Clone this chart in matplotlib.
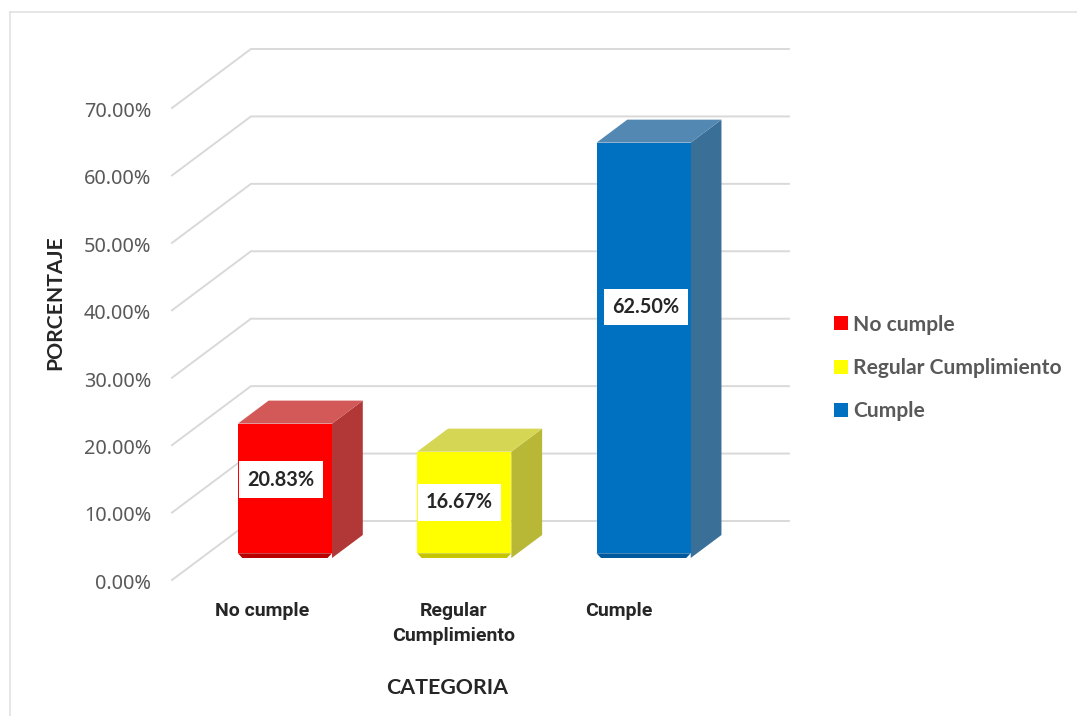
# Cumplimiento por categoria - 3D style bar chart
import matplotlib
matplotlib.use("Agg")
import matplotlib.pyplot as plt
from matplotlib.lines import Line2D
from matplotlib.patches import Patch, Polygon
from matplotlib.transforms import ScaledTranslation

# Data
categories = ["No cumple", "Regular\nCumplimiento", "Cumple"]
legend_labels = ["No cumple", "Regular Cumplimiento", "Cumple"]
values = [20.83, 16.67, 62.50]
y_ticks = [0, 10, 20, 30, 40, 50, 60, 70]

# Colours: front, top, side, base
front_colors = ["#ff0000", "#ffff00", "#0070c0"]
top_colors = ["#d35858", "#d6d655", "#5388b2"]
side_colors = ["#b23737", "#b8b836", "#3a6f97"]
base_colors = ["#b80000", "#c4c400", "#00599c"]

GRID = "#d9d9d9"
TEXT = "#595959"

# Depth of the fake 3D box, in data units
DEPTH_X = 0.44
DEPTH_Y = 8.75
BAR_FRONT = 0.27
BAR_BACK = 0.66
BAR_WIDTH = 0.525
BAR_SHIFT = 0.011
BASE_CUT = 0.9
BASE_STRIP = 0.7
label_frac = [0.60, 0.55, 0.61]
label_shift = [-0.01, -0.016, 0.025]


def proj(x, y, depth):
    return (x + DEPTH_X * depth, y + DEPTH_Y * depth)


fig = plt.figure(figsize=(10.77, 7.16), dpi=100)
ax = fig.add_axes([172 / 1077, 136 / 716, 538 / 1077, 472 / 716])
ax.set_xlim(-0.5, 2.5)
ax.set_ylim(0, 70)
ax.patch.set_visible(False)
for s in ax.spines.values():
    s.set_visible(False)

# outer frame
fig.add_artist(Line2D([10 / 1077, 10 / 1077], [0, 704 / 716], color="#e2e2e2", lw=1.2))
fig.add_artist(Line2D([10 / 1077, 1], [704 / 716, 704 / 716], color="#e2e2e2", lw=1.2))

# floor / wall lines
for t in y_ticks:
    x0, y0 = proj(-0.5, t, 0)
    x1, y1 = proj(-0.5, t, 1)
    x2, y2 = proj(2.5, t, 1)
    ax.plot([x0, x1, x2], [y0, y1, y2], color=GRID, lw=1.4, clip_on=False, zorder=1)

# bars
for i, v in enumerate(values):
    left = i - BAR_WIDTH / 2 + BAR_SHIFT
    right = i + BAR_WIDTH / 2 + BAR_SHIFT
    bottom = BASE_CUT
    mid = bottom + BASE_STRIP
    front = [proj(left, mid, BAR_FRONT), proj(right, mid, BAR_FRONT),
             proj(right, v, BAR_FRONT), proj(left, v, BAR_FRONT)]
    side = [proj(right, bottom, BAR_FRONT), proj(right, bottom, BAR_BACK),
            proj(right, v, BAR_BACK), proj(right, v, BAR_FRONT)]
    top = [proj(left, v, BAR_FRONT), proj(right, v, BAR_FRONT),
           proj(right, v, BAR_BACK), proj(left, v, BAR_BACK)]
    # dark lip with cut corners at the foot of the bar
    strip = [proj(left + 0.025, bottom, BAR_FRONT), proj(right - 0.025, bottom, BAR_FRONT),
             proj(right, mid, BAR_FRONT), proj(left, mid, BAR_FRONT)]
    ax.add_patch(Polygon(side, closed=True, fc=side_colors[i], ec="none", zorder=3, clip_on=False))
    ax.add_patch(Polygon(top, closed=True, fc=top_colors[i], ec="none", zorder=3, clip_on=False))
    ax.add_patch(Polygon(front, closed=True, fc=front_colors[i], ec="none", zorder=4, clip_on=False))
    ax.add_patch(Polygon(strip, closed=True, fc=base_colors[i], ec="none", zorder=5, clip_on=False))
    lx, ly = proj(i + label_shift[i], v * label_frac[i], BAR_FRONT)
    ax.text(lx, ly, f"{v:.2f}%", ha="center", va="center", fontsize=14.3, fontweight="bold",
            family="Lato", color="#262626", zorder=6,
            bbox=dict(boxstyle="square,pad=0.42", fc="white", ec="none"))

# axes
ax.set_yticks(y_ticks)
ax.set_yticklabels([f"{t:.2f}%" for t in y_ticks], family="Noto Sans", fontsize=14.3, color=TEXT)
ax.set_xticks([0, 1.07, 1.99])
ax.set_xticklabels(categories, family="Roboto", fontweight="bold", fontsize=14, color="#262626",
                   linespacing=1.5)
ax.tick_params(axis="y", length=0, pad=15)
ax.tick_params(axis="x", length=0, pad=16)
nudge = ScaledTranslation(0, -1 / 72, fig.dpi_scale_trans)
for lab in ax.get_yticklabels():
    lab.set_transform(lab.get_transform() + nudge)

fig.text(55 / 1077, 1 - 303 / 716, "PORCENTAJE", rotation=90, ha="center", va="center",
         family="Lato", fontweight="bold", fontsize=15.2, color="#262626")
fig.text(447 / 1077, 1 - 688 / 716, "CATEGORIA", ha="center", va="center",
         family="Lato", fontweight="bold", fontsize=15.4, color="#262626")

# legend
handles = [Patch(fc=c, ec="none") for c in front_colors]
fig.legend(handles, legend_labels, loc="center left", bbox_to_anchor=(834 / 1077, 1 - 368 / 716),
           frameon=False, handlelength=0.67, handleheight=0.67, handletextpad=0.25, labelspacing=1.12,
           borderpad=0, borderaxespad=0, labelcolor=TEXT,
           prop={"family": "Lato", "weight": "bold", "size": 15.1})

fig.savefig("out.png", dpi=100)
